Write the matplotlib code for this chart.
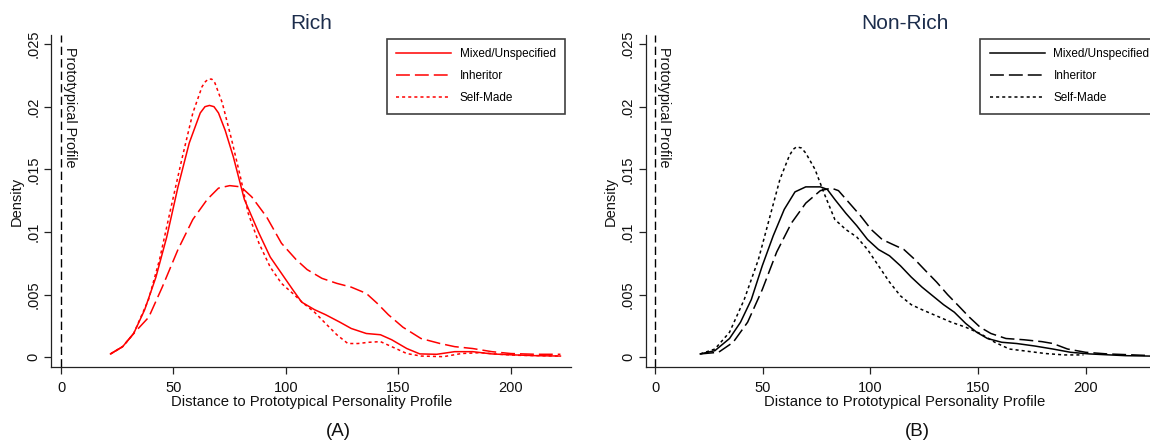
import matplotlib
matplotlib.use("Agg")
import matplotlib.pyplot as plt

plt.rcParams['font.family'] = ['Liberation Sans', 'DejaVu Sans']
plt.rcParams['lines.scale_dashes'] = False

# ---------------- Data ----------------
# Panel A: Rich
rich_mixed_x = [22, 27.4, 32.3, 37.2, 42.2, 47, 52, 57, 61.9, 64, 66, 68, 70, 73, 76.6, 81.5,
                88, 93, 98, 103, 107, 112.7, 117.6, 124, 129, 135.7, 142, 147, 153.7, 159.5,
                167, 175, 183, 191.5, 200, 211, 222]
rich_mixed_y = [0.00027, 0.00085, 0.0019, 0.0038, 0.0064, 0.0096, 0.0136, 0.0171, 0.0195, 0.0200,
                0.0201, 0.0200, 0.0195, 0.0181, 0.0160, 0.0126, 0.0099, 0.0080, 0.0067, 0.0054,
                0.0044, 0.0038, 0.0034, 0.0028, 0.0023, 0.0019, 0.0018, 0.0014, 0.0007, 0.00027,
                0.00024, 0.00045, 0.00045, 0.00027, 0.0002, 0.00013, 0.0001]

rich_inher_x = [22, 27.4, 32.3, 39, 45, 52, 58.6, 65, 70, 75, 80, 84.8, 91.4, 98, 104.5, 109.4,
                116, 122.6, 129, 135.7, 140.6, 145.5, 152, 160, 168.5, 175, 183, 191.5, 200,
                211, 222]
rich_inher_y = [0.00027, 0.00085, 0.0019, 0.0032, 0.0056, 0.0086, 0.0110, 0.0126, 0.0135, 0.0137,
                0.0136, 0.0128, 0.0112, 0.0091, 0.0078, 0.0070, 0.0063, 0.0059, 0.0056, 0.0051,
                0.0043, 0.0034, 0.0024, 0.0015, 0.0011, 0.00085, 0.0007, 0.00045, 0.0003,
                0.00024, 0.00024]

rich_self_x = [22, 27.4, 32.3, 38.9, 43.8, 48.7, 53.7, 58.6, 62.7, 64.2, 65.5, 67, 68.4, 71.7,
               75.8, 80, 83.2, 88, 93, 98, 103, 107.8, 112.7, 117.6, 122.6, 127.5, 132, 137,
               142, 147, 153.7, 160, 170, 178, 186.5, 194.7, 203, 222]
rich_self_y = [0.00027, 0.00085, 0.0019, 0.0046, 0.0078, 0.0118, 0.0158, 0.0195, 0.0216, 0.0220,
               0.0222, 0.0222, 0.0219, 0.0203, 0.0174, 0.0142, 0.0115, 0.0091, 0.0072, 0.0059,
               0.0051, 0.0043, 0.0036, 0.0027, 0.0018, 0.0011, 0.0011, 0.0012, 0.00125, 0.00085,
               0.0003, 0.0001, 0.00005, 0.0003, 0.00037, 0.00024, 0.00016, 0.0001]

# Panel B: Non-Rich
non_mixed_x = [21, 27.8, 34.6, 39.7, 44.7, 49.8, 54.9, 60, 65, 70, 76.8, 80, 83.5, 88.6, 93.7,
               98.7, 103.8, 108.9, 114, 119, 124, 129, 134, 139, 144.3, 149.4, 154.4, 161,
               168, 176.4, 184.8, 193, 201.7, 210, 218.6, 236]
non_mixed_y = [0.00027, 0.00053, 0.0015, 0.0028, 0.0046, 0.0073, 0.0097, 0.0118, 0.0132, 0.0136,
               0.0136, 0.0134, 0.0126, 0.0115, 0.0105, 0.0094, 0.0086, 0.0081, 0.0073, 0.0064,
               0.0056, 0.0049, 0.0042, 0.0036, 0.0027, 0.0020, 0.0015, 0.0012, 0.0011, 0.0009,
               0.00066, 0.0004, 0.00027, 0.0002, 0.00013, 0.00008]

non_inher_x = [21, 29.5, 36.3, 43, 49.8, 56.5, 63.3, 70, 76.8, 81.9, 85.2, 90.3, 95.4, 100.4,
               105.5, 110.5, 115.6, 120.7, 125.7, 130.8, 135.9, 141, 146, 151, 156, 163,
               171.3, 179.7, 184.8, 191.6, 200, 210, 236]
non_inher_y = [0.00027, 0.0004, 0.0012, 0.0028, 0.0054, 0.0084, 0.0107, 0.0123, 0.0133, 0.0135,
               0.0133, 0.0123, 0.0113, 0.0102, 0.0094, 0.0090, 0.0086, 0.0078, 0.0069, 0.0060,
               0.0050, 0.0041, 0.0032, 0.0024, 0.0019, 0.0015, 0.0014, 0.00125, 0.0011,
               0.00066, 0.0004, 0.00027, 0.0001]

non_self_x = [21, 27.8, 34.6, 41.4, 48, 53, 58, 62.4, 64.2, 65.8, 68, 70, 74.3, 78.5, 83.5,
              88.6, 93.7, 98.7, 103.8, 108.9, 114, 119, 124, 130.8, 137.6, 144.3, 151, 157.8,
              164.6, 173, 181.4, 190, 199]
non_self_y = [0.00027, 0.00066, 0.0020, 0.0046, 0.0078, 0.0110, 0.0142, 0.0161, 0.0166, 0.0168,
              0.0167, 0.0163, 0.0150, 0.0131, 0.0110, 0.0102, 0.0096, 0.0086, 0.0073, 0.0060,
              0.0049, 0.0042, 0.0038, 0.0033, 0.0028, 0.0024, 0.0019, 0.0012, 0.00066, 0.00048,
              0.0003, 0.00019, 0.00019]

series_labels = ['Mixed/Unspecified', 'Inheritor', 'Self-Made']
panel_titles = ['Rich', 'Non-Rich']
panel_captions = ['(A)', '(B)']
xticks = [0, 50, 100, 150, 200]
yticks = [0, 0.005, 0.01, 0.015, 0.02, 0.025]
ytick_labels = ['0', '.005', '.01', '.015', '.02', '.025']
xlabel = 'Distance to Prototypical Personality Profile'
ylabel = 'Density'
ref_label = 'Prototypical Profile'

# ---------------- Figure ----------------
W, H = 1150, 442
fig = plt.figure(figsize=(W / 100, H / 100), dpi=100)

def px_axes(l, r, t, b):
    return [l / W, (H - b) / H, (r - l) / W, (b - t) / H]

axA = fig.add_axes(px_axes(51.4, 571, 35, 367))
axB = fig.add_axes(px_axes(646, 1164, 35, 367))

title_color = '#1c2d4c'
long_dash = (0, (10, 3.6))
short_dot = (0, (2.2, 2.2))
lw = 1.1

panels = [
    (axA, 'red', (rich_mixed_x, rich_mixed_y), (rich_inher_x, rich_inher_y),
     (rich_self_x, rich_self_y), (-4.27, 226.7)),
    (axB, 'black', (non_mixed_x, non_mixed_y), (non_inher_x, non_inher_y),
     (non_self_x, non_self_y), (-4.2, 236.4)),
]

for i, (ax, col, m, inh, sm, xl) in enumerate(panels):
    ax.plot(m[0], m[1], color=col, lw=lw, linestyle='-', label=series_labels[0])
    ax.plot(inh[0], inh[1], color=col, lw=lw, linestyle=long_dash, label=series_labels[1])
    ax.plot(sm[0], sm[1], color=col, lw=lw, linestyle=short_dot, label=series_labels[2])
    ax.axvline(0, color='black', lw=1.0, linestyle=(0, (6, 3)))
    ax.set_xlim(*xl)
    ax.set_ylim(-0.000774, 0.02572)
    ax.set_xticks(xticks)
    ax.set_yticks(yticks)
    ax.set_yticklabels(ytick_labels, rotation=90, va='center')
    ax.tick_params(axis='both', direction='out', length=5, width=0.9, colors='#222222',
                   labelsize=10.5, labelcolor='#111111')
    ax.tick_params(axis='y', pad=3)
    ax.tick_params(axis='x', pad=5)
    for s in ['top', 'right']:
        ax.spines[s].set_visible(False)
    for s in ['left', 'bottom']:
        ax.spines[s].set_linewidth(0.9)
        ax.spines[s].set_color('#222222')
    ax.set_xlabel(xlabel, fontsize=10.7, labelpad=0, color='#111111')
    ax.set_ylabel(ylabel, fontsize=10.5, labelpad=2, color='#111111')
    ax.set_title(panel_titles[i], fontsize=15, color=title_color, pad=4)
    ax.text(0.9, 0.0248, ref_label, rotation=-90, va='top', ha='left',
            fontsize=10.4, color='#111111')
    leg_x = 0.9885 if i == 0 else 0.990
    leg = ax.legend(loc='upper right', bbox_to_anchor=(leg_x, 0.988), borderaxespad=0,
                    fontsize=8.5, handlelength=4.66, handletextpad=0.72, labelspacing=0.85,
                    borderpad=0.8, fancybox=False, framealpha=1, edgecolor='#404040')
    leg.get_frame().set_linewidth(1.2)

fig.text(338 / W, 1 - 432 / H, panel_captions[0], fontsize=13.5, ha='center', va='center',
         color='#111111')
fig.text(917 / W, 1 - 432 / H, panel_captions[1], fontsize=13.5, ha='center', va='center',
         color='#111111')

fig.savefig('out.png', dpi=100, facecolor='white')
